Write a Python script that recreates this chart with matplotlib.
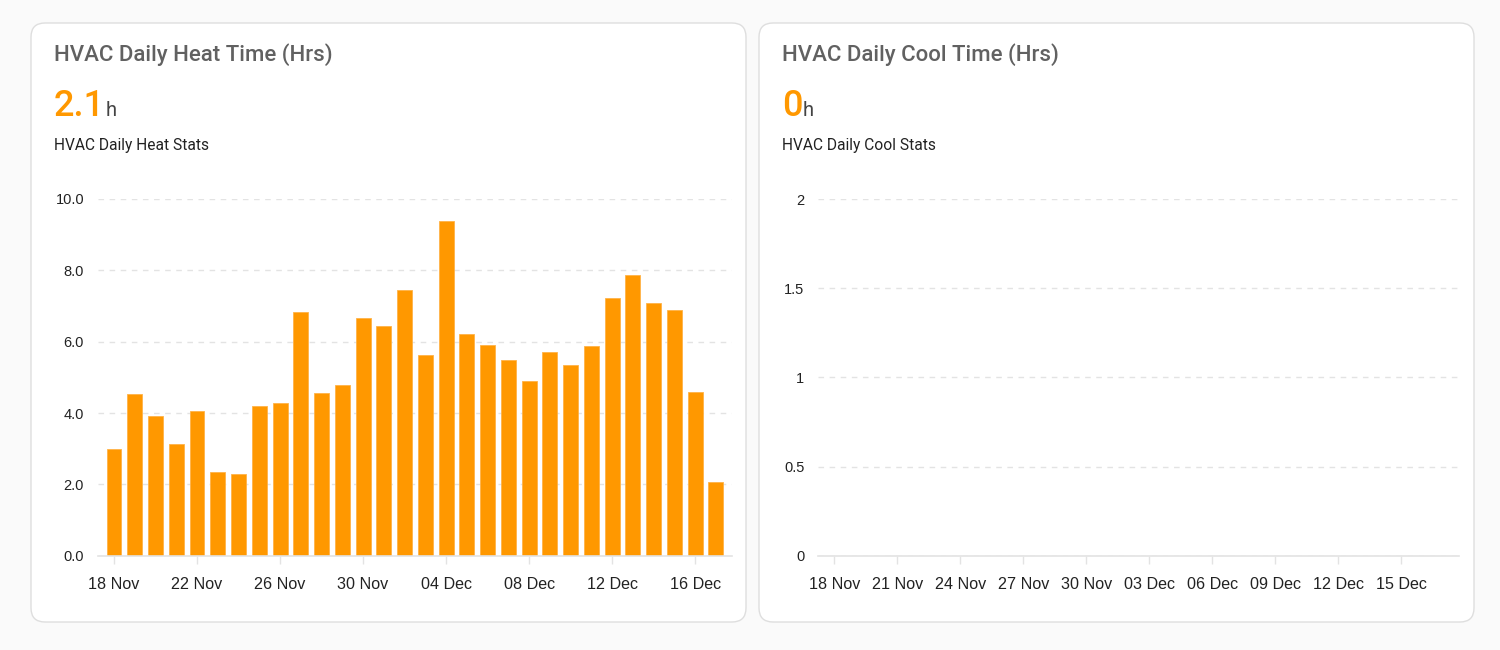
import matplotlib
matplotlib.use("Agg")
import matplotlib.pyplot as plt
import matplotlib.dates as mdates
from matplotlib.patches import FancyBboxPatch
import pandas as pd

# ---------------- data ----------------
dates = pd.date_range("2023-11-18", "2023-12-17", freq="D")
heat_hours = [2.99, 4.52, 3.91, 3.13, 4.05, 2.36, 2.30, 4.21, 4.27, 6.82,
              4.55, 4.79, 6.65, 6.44, 7.45, 5.64, 9.37, 6.21, 5.92, 5.50,
              4.89, 5.72, 5.36, 5.87, 7.22, 7.87, 7.08, 6.89, 4.59, 2.06]
cool_hours = [0, 0, 0, 0, 0, 0, 0, 0, 0, 0,
              0, 0, 0, 0, 0, 0, 0, 0, 0, 0,
              0, 0, 0, 0, 0, 0, 0, 0, 0, 0]
heat_title = "HVAC Daily Heat Time (Hrs)"
cool_title = "HVAC Daily Cool Time (Hrs)"
heat_value = "2.1"
cool_value = "0"
heat_sub = "HVAC Daily Heat Stats"
cool_sub = "HVAC Daily Cool Stats"
heat_yticks = [0, 2, 4, 6, 8, 10]
heat_ylabels = ["0.0", "2.0", "4.0", "6.0", "8.0", "10.0"]
cool_yticks = [0, 0.5, 1, 1.5, 2]
cool_ylabels = ["0", "0.5", "1", "1.5", "2"]

ORANGE = "#FF9800"
GRID = "#e3e3e3"
W, H = 1500, 650

fig = plt.figure(figsize=(W / 100, H / 100), dpi=100)
fig.patch.set_facecolor("#fafafa")

# background axes in pixel coordinates
bg = fig.add_axes([0, 0, 1, 1], zorder=0)
bg.set_xlim(0, W)
bg.set_ylim(H, 0)
bg.axis("off")

cards = [(31, 23, 715, 599), (759, 23, 715, 599)]
for (x, y, w, h) in cards:
    bg.add_patch(FancyBboxPatch((x, y), w, h, boxstyle="round,pad=0,rounding_size=14",
                                facecolor="white", edgecolor="#dedede", linewidth=1.0))

renderer = fig.canvas.get_renderer()


def header(x0, title, value, sub):
    bg.text(x0, 60.5, title, fontsize=16, fontfamily="Roboto", fontweight="medium",
            color="#616161", va="baseline", ha="left")
    t = bg.text(x0, 116.5, value, fontsize=26, fontfamily="Roboto", fontweight="medium",
                color=ORANGE, va="baseline", ha="left")
    bb = t.get_window_extent(renderer=renderer)
    bg.text(bb.x1 + 0.5, 116.5, "h", fontsize=14.5, fontfamily="Roboto",
            color="#444444", va="baseline", ha="left")
    bg.text(x0, 150, sub, fontsize=11.2, fontfamily="Roboto",
            color="#222222", va="baseline", ha="left")


header(54, heat_title, heat_value, heat_sub)
header(782, cool_title, cool_value, cool_sub)


def make_ax(left_px, right_px, top_px, bottom_px):
    ax = fig.add_axes([left_px / W, (H - bottom_px) / H,
                       (right_px - left_px) / W, (bottom_px - top_px) / H], zorder=1)
    ax.set_facecolor("none")
    for s in ["top", "right", "left"]:
        ax.spines[s].set_visible(False)
    ax.spines["bottom"].set_color(GRID)
    ax.spines["bottom"].set_linewidth(1.2)
    ax.grid(axis="y", color=GRID, linestyle=(0, (4, 4)), linewidth=1.0)
    ax.set_axisbelow(True)
    ax.tick_params(axis="y", length=0, pad=10, labelsize=10.5, labelcolor="#222222")
    ax.tick_params(axis="x", length=6, width=1, color=GRID, pad=9.5,
                   labelsize=11.6, labelcolor="#222222")
    ax.set_xlim(dates[0] - pd.Timedelta(hours=18.5), dates[-1] + pd.Timedelta(hours=18.3))
    return ax


ax1 = make_ax(98, 731.7, 199, 555.7)
ax1.bar(dates, heat_hours, width=0.72, color=ORANGE, edgecolor="#ffb347", linewidth=0.6, zorder=2)
ax1.set_ylim(0, 10)
ax1.set_yticks(heat_yticks, heat_ylabels)
ax1.set_xticks(dates[::4])
ax1.xaxis.set_major_formatter(mdates.DateFormatter("%d %b"))

ax2 = make_ax(818.3, 1459, 199, 555.7)
ax2.bar(dates, cool_hours, width=0.72, color=ORANGE, linewidth=0, zorder=2)
ax2.set_ylim(0, 2)
ax2.set_yticks(cool_yticks, cool_ylabels)
ax2.set_xticks(dates[::3])
ax2.xaxis.set_major_formatter(mdates.DateFormatter("%d %b"))

for ax in (ax1, ax2):
    for lab in ax.get_xticklabels() + ax.get_yticklabels():
        lab.set_fontfamily("Liberation Sans")

fig.savefig("out.png", dpi=100, facecolor=fig.get_facecolor())
